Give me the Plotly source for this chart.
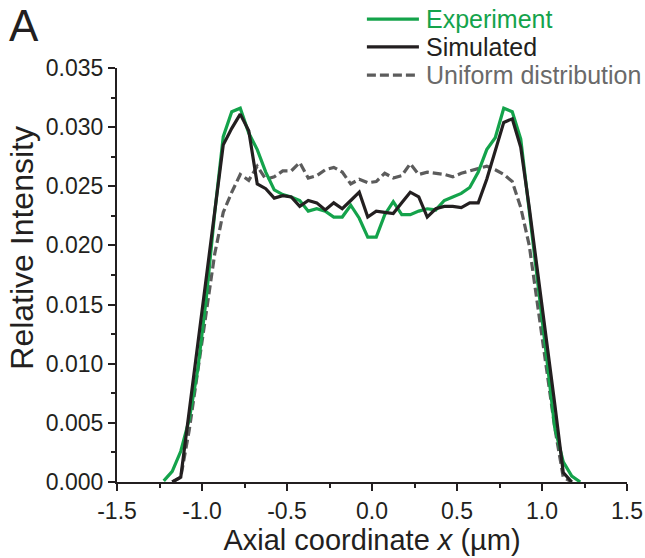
import plotly.graph_objects as go

# Axial coordinate grid (µm)
x_um = [-1.225, -1.175, -1.125, -1.075, -1.025, -0.975, -0.925, -0.875, -0.825, -0.775,
        -0.725, -0.675, -0.625, -0.575, -0.525, -0.475, -0.425, -0.375, -0.325, -0.275,
        -0.225, -0.175, -0.125, -0.075, -0.025, 0.025, 0.075, 0.125, 0.175, 0.225,
        0.275, 0.325, 0.375, 0.425, 0.475, 0.525, 0.575, 0.625, 0.675, 0.725,
        0.775, 0.825, 0.875, 0.925, 0.975, 1.025, 1.075, 1.125, 1.175, 1.225]

experiment = [0.0001, 0.0009, 0.0026, 0.0053, 0.0095, 0.0155, 0.0228, 0.0292, 0.0313, 0.0316,
              0.0295, 0.0281, 0.0262, 0.0247, 0.0243, 0.0241, 0.0238, 0.0229, 0.0231, 0.0229,
              0.0224, 0.0224, 0.0234, 0.0223, 0.0207, 0.0207, 0.0226, 0.0237, 0.0226, 0.0226,
              0.0229, 0.0231, 0.0230, 0.0238, 0.0241, 0.0244, 0.0249, 0.0262, 0.0281, 0.0291,
              0.0316, 0.0313, 0.0290, 0.0230, 0.0172, 0.0108, 0.0046, 0.0017, 0.0005, 0.0000]

simulated = [None, 0.0000, 0.0004, 0.0060, 0.0116, 0.0173, 0.0230, 0.0285, 0.0299, 0.0311,
             0.0297, 0.0252, 0.0248, 0.0240, 0.0242, 0.0241, 0.0233, 0.0238, 0.0236, 0.0230,
             0.0236, 0.0231, 0.0238, 0.0245, 0.0224, 0.0229, 0.0228, 0.0227, 0.0236, 0.0245,
             0.0241, 0.0224, 0.0231, 0.0233, 0.0233, 0.0232, 0.0236, 0.0236, 0.0256, 0.0281,
             0.0304, 0.0307, 0.0283, 0.0232, 0.0178, 0.0122, 0.0066, 0.0008, 0.0000, None]

uniform = [None, 0.0000, 0.0004, 0.0044, 0.0094, 0.0144, 0.0193, 0.0228, 0.0245, 0.0260,
           0.0255, 0.0267, 0.0256, 0.0258, 0.0263, 0.0263, 0.0270, 0.0257, 0.0259, 0.0264,
           0.0266, 0.0262, 0.0252, 0.0256, 0.0253, 0.0254, 0.0261, 0.0257, 0.0259, 0.0269,
           0.0260, 0.0262, 0.0261, 0.0260, 0.0258, 0.0261, 0.0263, 0.0265, 0.0267, 0.0264,
           0.0260, 0.0254, 0.0232, 0.0200, 0.0150, 0.0098, 0.0046, 0.0004, 0.0000, None]

x_ticks = [-1.5, -1.0, -0.5, 0.0, 0.5, 1.0, 1.5]
x_tick_labels = ["-1.5", "-1.0", "-0.5", "0.0", "0.5", "1.0", "1.5"]
y_ticks = [0.0, 0.005, 0.010, 0.015, 0.020, 0.025, 0.030, 0.035]
y_tick_labels = ["0.000", "0.005", "0.010", "0.015", "0.020", "0.025", "0.030", "0.035"]

series_names = ["Experiment", "Simulated", "Uniform distribution"]
x_title = "Axial coordinate <i>x</i> (µm)"
y_title = "Relative Intensity"

GREEN = "#14a34b"
BLACK = "#231f20"
GRAY = "#5c5c5c"
GRAY_TEXT = "#6a6a6a"
FONT = "Liberation Sans, Arial, sans-serif"
DASH = "9px,4px"
LW = 3.2

fig = go.Figure()
fig.add_trace(go.Scatter(x=x_um, y=uniform, mode="lines", name=series_names[2],
                         line=dict(color=GRAY, width=LW, dash=DASH)))
fig.add_trace(go.Scatter(x=x_um, y=experiment, mode="lines", name=series_names[0],
                         line=dict(color=GREEN, width=LW)))
fig.add_trace(go.Scatter(x=x_um, y=simulated, mode="lines", name=series_names[1],
                         line=dict(color=BLACK, width=LW)))

# Key (legend) drawn in paper coordinates
key_rows = [(series_names[0], GREEN, GREEN, "solid", 1.118),
            (series_names[1], BLACK, BLACK, "solid", 1.051),
            (series_names[2], GRAY, GRAY_TEXT, DASH, 0.983)]
shapes = []
annotations = []
for name, lc, tc, dash, yy in key_rows:
    shapes.append(dict(type="line", xref="paper", yref="paper", x0=0.490, x1=0.592,
                       y0=yy, y1=yy, line=dict(color=lc, width=LW, dash=dash)))
    annotations.append(dict(text=name, xref="paper", yref="paper", x=0.602, y=yy,
                            xanchor="left", yanchor="middle", showarrow=False,
                            font=dict(size=25, family=FONT, color=tc)))
annotations.append(dict(text="A", xref="paper", yref="paper", x=-0.216, y=1.166,
                        xanchor="left", yanchor="top", showarrow=False,
                        font=dict(size=44, family=FONT, color=BLACK)))
# y-axis title (placed as in the reference, slightly above the plot centre)
annotations.append(dict(text=y_title, xref="paper", yref="paper", x=-0.187, y=0.565,
                        xanchor="center", yanchor="middle", textangle=-90, showarrow=False,
                        font=dict(size=32, family=FONT, color=BLACK)))

fig.update_layout(
    width=645, height=558,
    margin=dict(l=117, r=18, t=68, b=76, autoexpand=False),
    paper_bgcolor="white", plot_bgcolor="white",
    font=dict(family=FONT, color=BLACK),
    showlegend=False,
    shapes=shapes,
    annotations=annotations,
)
fig.update_xaxes(range=[-1.5, 1.5], tickvals=x_ticks, ticktext=x_tick_labels,
                 automargin=False,
                 showgrid=False, zeroline=False, showline=True, linecolor=BLACK, linewidth=2,
                 ticks="outside", ticklen=7, tickwidth=2, tickcolor=BLACK,
                 minor=dict(ticks="outside", ticklen=4, tickwidth=2, tickcolor=BLACK, dtick=0.25, tick0=0),
                 tickfont=dict(size=23, family=FONT, color=BLACK),
                 title=dict(text=x_title, font=dict(size=29, family=FONT, color=BLACK),
                            standoff=6))
fig.update_yaxes(range=[0, 0.035], tickvals=y_ticks, ticktext=y_tick_labels,
                 automargin=False,
                 showgrid=False, zeroline=False, showline=True, linecolor=BLACK, linewidth=2,
                 ticks="outside", ticklen=7, tickwidth=2, tickcolor=BLACK,
                 minor=dict(ticks="outside", ticklen=4, tickwidth=2, tickcolor=BLACK, dtick=0.0025, tick0=0),
                 tickfont=dict(size=23, family=FONT, color=BLACK))

fig.write_html("out.html")
